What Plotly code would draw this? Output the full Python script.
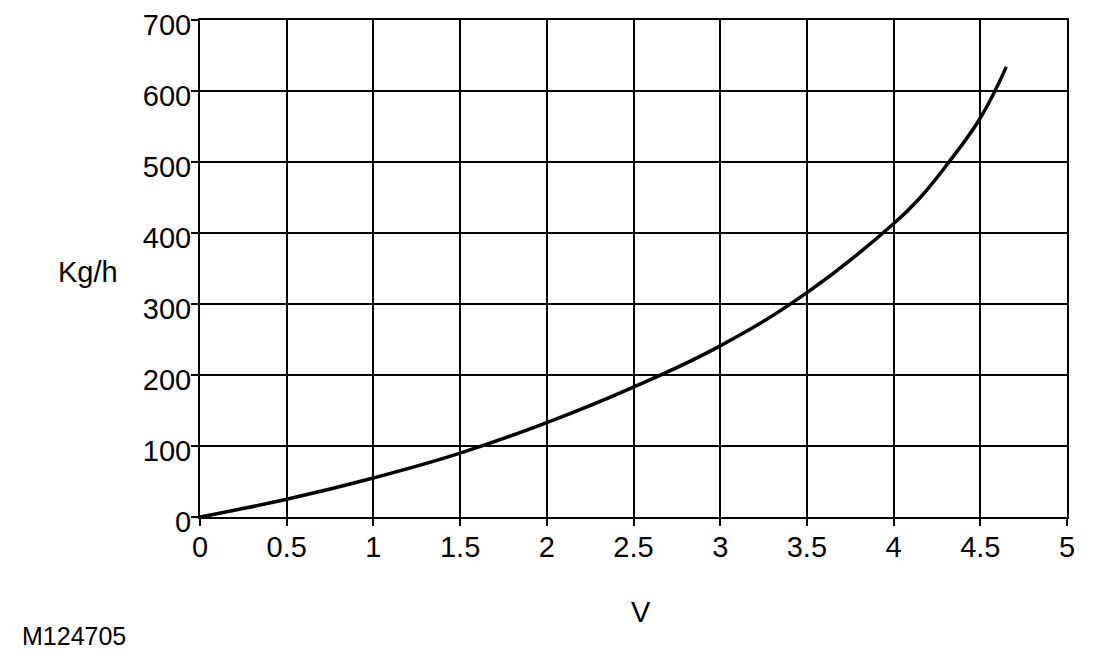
import plotly.graph_objects as go

# values
volts = [0, 0.5, 1, 1.5, 2, 2.5, 3, 3.5, 4, 4.15, 4.31, 4.5, 4.65]
kg_per_h = [0, 25, 55, 90, 133, 183, 241, 316, 413, 449, 497, 562, 634]

x_ticks = [0, 0.5, 1, 1.5, 2, 2.5, 3, 3.5, 4, 4.5, 5]
x_tick_text = ["0", "0.5", "1", "1.5", "2", "2.5", "3", "3.5", "4", "4.5", "5"]
y_ticks = [0, 100, 200, 300, 400, 500, 600, 700]

font = "Liberation Sans, Arial, sans-serif"

fig = go.Figure()
fig.add_trace(go.Scatter(x=volts, y=kg_per_h, mode="lines",
                         line=dict(color="black", width=3.5, shape="spline", smoothing=1.2),
                         showlegend=False, hoverinfo="x+y"))

axis_common = dict(showgrid=True, gridcolor="black", gridwidth=1.6,
                   showline=True, linecolor="black", linewidth=2, mirror=True,
                   ticks="outside", ticklen=7, tickwidth=2, tickcolor="black",
                   zeroline=False, automargin=False, ticklabeloverflow="allow",
                   tickfont=dict(family=font, size=29, color="black"))

fig.update_xaxes(range=[0, 5], tickvals=x_ticks, ticktext=x_tick_text,
                 ticklabelstandoff=-4, **axis_common)
# labels sit a few px below their grid lines in the reference
fig.update_yaxes(range=[0, 700], tickvals=y_ticks, ticklabelstandoff=-6,
                 ticklabelshift=5, **axis_common)

# page body adds ~8px, so margins are set for the plot box to land at 200..1067 x 20..517
offset = 8
plot_l, plot_r, plot_t, plot_b = 192, 61, 12, 147
pw = 1120 - plot_l - plot_r
ph = 656 - plot_t - plot_b


def to_paper(px, py):
    return (px - offset - plot_l) / pw, (656 - plot_b - (py - offset)) / ph


labels = [("Kg/h", 88, 272, 29), ("V", 641, 612, 29), ("M124705", 74, 636, 25)]
for text, px, py, size in labels:
    ax, ay = to_paper(px, py)
    fig.add_annotation(text=text, x=ax, y=ay, xref="paper", yref="paper", showarrow=False,
                       xanchor="center", yanchor="middle",
                       font=dict(family=font, size=size, color="black"))

fig.update_layout(width=1120, height=656,
                  margin=dict(l=plot_l, r=plot_r, t=plot_t, b=plot_b),
                  paper_bgcolor="white", plot_bgcolor="white",
                  font=dict(family=font, color="black"))

fig.write_html("out.html")
